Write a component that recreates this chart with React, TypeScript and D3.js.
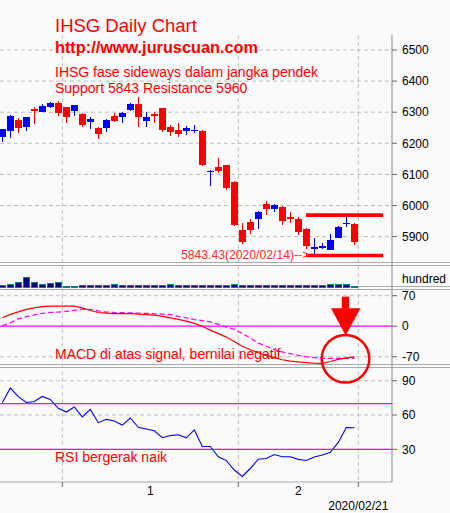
import React from "react";
import * as d3 from "d3";

const dates = [
  "2019/12/17", "2019/12/18", "2019/12/19", "2019/12/20", "2019/12/23", "2019/12/26", "2019/12/27", "2019/12/30",
  "2020/01/02", "2020/01/03", "2020/01/06", "2020/01/07", "2020/01/08", "2020/01/09", "2020/01/10", "2020/01/13",
  "2020/01/14", "2020/01/15", "2020/01/16", "2020/01/17", "2020/01/20", "2020/01/21", "2020/01/22", "2020/01/23",
  "2020/01/24", "2020/01/27", "2020/01/28", "2020/01/29", "2020/01/30", "2020/01/31",
  "2020/02/03", "2020/02/04", "2020/02/05", "2020/02/06", "2020/02/07", "2020/02/10", "2020/02/11", "2020/02/12",
  "2020/02/13", "2020/02/14", "2020/02/17", "2020/02/18", "2020/02/19", "2020/02/20", "2020/02/21",
];

const opens = [
  6221, 6240, 6275, 6253, 6309, 6302, 6318, 6329, 6316, 6305, 6294, 6270, 6250, 6248, 6289, 6286,
  6307, 6326, 6273, 6294, 6312, 6251, 6243, 6239, 6240, 6240, 6108, 6125, 6130, 6076,
  5921, 5947, 5956, 6005, 5988, 5996, 5963, 5957, 5924, 5860, 5862, 5857, 5897, 5939, 5942,
];
const highs = [
  6247, 6290, 6280, 6286, 6318, 6326, 6334, 6336, 6318, 6324, 6298, 6286, 6252, 6277, 6296, 6300,
  6328, 6350, 6302, 6302, 6314, 6259, 6264, 6256, 6259, 6243, 6114, 6154, 6131, 6080,
  5944, 5956, 5981, 6015, 6005, 5999, 5979, 5962, 5929, 5895, 5879, 5907, 5933, 5962, 5944,
];
const lows = [
  6205, 6218, 6232, 6240, 6262, 6300, 6312, 6288, 6264, 6288, 6251, 6245, 6214, 6235, 6270, 6266,
  6305, 6253, 6253, 6266, 6237, 6223, 6221, 6227, 6234, 6128, 6063, 6103, 6050, 5934,
  5876, 5908, 5923, 5970, 5979, 5937, 5945, 5905, 5860, 5843.43, 5859, 5856, 5896, 5931, 5873,
];
const closes = [
  6245, 6288, 6248, 6284, 6305, 6321, 6331, 6298, 6284, 6323, 6259, 6278, 6229, 6275, 6273, 6298,
  6326, 6284, 6286, 6288, 6243, 6237, 6230, 6248, 6243, 6130, 6111, 6112, 6057, 5937,
  5884, 5921, 5980, 5989, 6002, 5950, 5956, 5914, 5871, 5867, 5871, 5889, 5932, 5944, 5882,
];

// volume in hundreds (relative units)
const volumes = [
  20, 30, 47, 100, 47, 27, 37, 47, 10, 10, 15, 15, 15, 15, 27, 15,
  15, 15, 15, 15, 15, 27, 15, 15, 15, 15, 15, 15, 20, 30,
  20, 20, 20, 20, 20, 20, 20, 20, 20, 20, 20, 25, 25, 25, 10,
];

const macd = [
  19.5, 27, 33, 38.5, 42, 45, 46, 46, 46, 46, 42, 36, 31.5, 30, 29, 29,
  29, 27.5, 26.5, 25.5, 22.5, 19, 15.5, 11.5, 6.5, 0, -9, -17, -25, -35,
  -46, -54, -61, -67, -72, -77, -80, -82, -83.5, -85, -85.5, -81, -76, -72.5, -70.5,
];
const signal = [
  1.5, 7.5, 17, 22, 26, 29.5, 31.5, 32.5, 34, 36.5, 39, 38.5, 35, 32.5, 31.5, 31,
  30.5, 30, 29.5, 28.5, 27.5, 26.5, 22.5, 19, 15, 13, 9.9, 4, -2, -7,
  -17, -27, -39, -46, -54, -59, -63, -67, -70, -72, -74, -74, -74, -74, -74,
];
const rsi = [
  70.8, 83.6, 76.0, 70.9, 71.8, 76.2, 73.6, 65.9, 62.6, 67.0, 58.4, 64.9, 53.3, 56.2, 54.8, 51.2,
  57.4, 49.2, 47.8, 46.2, 40.1, 42.0, 42.7, 40.0, 46.9, 32.4, 32.5, 23.5, 20.1, 11.9,
  6.2, 13.2, 21.3, 21.9, 25.4, 23.5, 23.5, 21.2, 20.2, 23.3, 25.0, 27.4, 36.0, 49.1, 48.9,
];

const priceTicks = [6500, 6400, 6300, 6200, 6100, 6000, 5900];
const macdTicks = [70, 0, -70];
const rsiTicks = [90, 60, 30];
const rsiBands = [70, 30];
const resistanceLevel = 5969;
const supportLevel = 5839;
const lowLabel = "5843.43(2020/02/14)-->";
const titleLines = ["IHSG Daily Chart", "http://www.juruscuan.com"];
const noteLines = ["IHSG fase sideways dalam jangka pendek", "Support 5843 Resistance 5960"];
const macdNote = "MACD di atas signal, bernilai negatif";
const rsiNote = "RSI bergerak naik";
const volumeUnit = "hundred";

const FONT = "'Liberation Sans', Arial, sans-serif";
const RED = "#ff0000";
const BLUE = "#0000ff";
const MAG = "#ff00ff";

export default function App() {
  const W = 450;
  const H = 513;
  const axisX = 392;
  const top = 35;
  const n = dates.length;

  const x = d3.scaleLinear().domain([0, n - 1]).range([2.3, 354.3]);
  const yP = d3.scaleLinear().domain([5900, 6500]).range([236.6, 50]);
  const yV = d3.scaleLinear().domain([0, 220]).range([287, 265]);
  const yM = d3.scaleLinear().domain([70, -70]).range([295.7, 356.7]);
  const yR = d3.scaleLinear().domain([90, 30]).range([380.7, 449.3]);

  // month boundaries
  const boundaries: number[] = [];
  const monthLabels: { label: string; pos: number }[] = [];
  let start = 0;
  for (let i = 1; i <= n; i++) {
    const m = i < n ? dates[i].slice(0, 7) : null;
    const pm = dates[i - 1].slice(0, 7);
    if (m !== pm) {
      if (i < n) boundaries.push(i - 0.5);
      if (start > 0) {
        monthLabels.push({ label: String(parseInt(pm.slice(5), 10)), pos: (start + i - 1) / 2 });
      }
      start = i;
    }
  }
  const lastBoundary = n - 0.5;
  const vLines = [...boundaries, lastBoundary].map((b) => x(b));

  const macdLine = d3.line<number>().x((_, i) => x(i)).y((d) => yM(d));
  const rsiLine = d3.line<number>().x((_, i) => x(i)).y((d) => yR(d));

  const separators = [264, 288, 366];
  const gridStroke = "#bdbdbd";
  const dash = "4,3";

  const idxLow = lows.indexOf(d3.min(lows) as number);

  return (
    <div style={{ position: "fixed", left: 0, top: 0 }}>
      <svg width={W} height={H} style={{ display: "block", background: "#fafafa" }} fontFamily={FONT}>
        <rect x={0} y={0} width={W} height={H} fill="#fafafa" />

        {/* horizontal grid - price */}
        {priceTicks.map((t) => (
          <line key={"pg" + t} x1={0} x2={axisX} y1={yP(t)} y2={yP(t)} stroke={gridStroke} strokeDasharray={dash} />
        ))}
        {/* grid - macd */}
        {macdTicks.filter((t) => t !== 0).map((t) => (
          <line key={"mg" + t} x1={0} x2={axisX} y1={yM(t)} y2={yM(t)} stroke={gridStroke} strokeDasharray={dash} />
        ))}
        {/* grid - rsi */}
        {rsiTicks.map((t) => (
          <line key={"rg" + t} x1={0} x2={axisX} y1={yR(t)} y2={yR(t)} stroke={gridStroke} strokeDasharray={dash} />
        ))}
        {/* vertical grid */}
        {vLines.map((vx, i) => (
          <line key={"vg" + i} x1={vx} x2={vx} y1={top} y2={482} stroke={gridStroke} strokeDasharray={dash} />
        ))}

        {/* separators */}
        {separators.map((s) => (
          <g key={"sep" + s}>
            <line x1={0} x2={W} y1={s - 1.5} y2={s - 1.5} stroke="#aaaaaa" />
            <line x1={0} x2={W} y1={s + 1.5} y2={s + 1.5} stroke="#aaaaaa" />
          </g>
        ))}
        <line x1={0} x2={axisX} y1={482} y2={482} stroke="#aaaaaa" />

        {/* axis line */}
        <line x1={axisX} x2={axisX} y1={top} y2={482} stroke="#9a9a9a" strokeWidth={1.2} />

        {/* price ticks */}
        {priceTicks.map((t) => (
          <g key={"pt" + t}>
            <line x1={axisX} x2={axisX + 5} y1={yP(t)} y2={yP(t)} stroke="#666677" />
            <text x={axisX + 10} y={yP(t)} dy="0.35em" fontSize={12} fill="#000">{t}</text>
          </g>
        ))}
        {macdTicks.map((t) => (
          <g key={"mt" + t}>
            <line x1={axisX} x2={axisX + 5} y1={yM(t)} y2={yM(t)} stroke="#666677" />
            <text x={axisX + 10} y={yM(t)} dy="0.35em" fontSize={12} fill="#000">{t}</text>
          </g>
        ))}
        {rsiTicks.map((t) => (
          <g key={"rt" + t}>
            <line x1={axisX} x2={axisX + 5} y1={yR(t)} y2={yR(t)} stroke="#666677" />
            <text x={axisX + 10} y={yR(t)} dy="0.35em" fontSize={12} fill="#000">{t}</text>
          </g>
        ))}
        <text x={axisX + 10} y={283} fontSize={12} fill="#000">{volumeUnit}</text>

        {/* bottom axis */}
        {vLines.map((vx, i) => (
          <line key={"bt" + i} x1={vx} x2={vx} y1={482} y2={487} stroke="#666677" />
        ))}
        {monthLabels.map((m) => (
          <text key={"ml" + m.label} x={x(m.pos)} y={495} textAnchor="middle" fontSize={12} fill="#000">{m.label}</text>
        ))}
        <text x={x(lastBoundary)} y={510} textAnchor="middle" fontSize={12} fill="#000">{dates[n - 1]}</text>

        {/* candles */}
        <g shapeRendering="crispEdges">
          {dates.map((d, i) => {
            const up = closes[i] >= opens[i];
            const c = up ? BLUE : RED;
            const cx = x(i);
            const yTop = yP(Math.max(opens[i], closes[i]));
            const yBot = yP(Math.min(opens[i], closes[i]));
            return (
              <g key={d}>
                <line x1={cx} x2={cx} y1={yP(highs[i])} y2={yP(lows[i])} stroke={c} />
                <rect x={cx - 3.5} y={yTop} width={7} height={Math.max(1.5, yBot - yTop)} fill={c} />
              </g>
            );
          })}
        </g>

        {/* volume */}
        <g shapeRendering="crispEdges">
          {volumes.map((v, i) => (
            <rect key={"v" + i} x={x(i) - 3} y={yV(v)} width={6.5} height={Math.max(1, yV(0) - yV(v))}
              fill="#000080" stroke="#008080" strokeWidth={1} />
          ))}
        </g>

        {/* MACD */}
        <line x1={0} x2={axisX} y1={yM(0)} y2={yM(0)} stroke={MAG} strokeWidth={1.3} />
        <path d={macdLine(signal) || ""} fill="none" stroke={MAG} strokeWidth={1.3} strokeDasharray="5,3" />
        <path d={macdLine(macd) || ""} fill="none" stroke={RED} strokeWidth={1.2} />

        {/* RSI */}
        {rsiBands.map((b) => (
          <line key={"rb" + b} x1={0} x2={axisX} y1={yR(b)} y2={yR(b)} stroke={MAG} strokeWidth={1.3} />
        ))}
        <path d={rsiLine(rsi) || ""} fill="none" stroke={BLUE} strokeWidth={1.1} />

        {/* support / resistance */}
        <line x1={306} x2={383} y1={yP(resistanceLevel)} y2={yP(resistanceLevel)} stroke={RED} strokeWidth={3.6} />
        <line x1={306} x2={383} y1={yP(supportLevel)} y2={yP(supportLevel)} stroke={RED} strokeWidth={3.6} />
        <text x={x(idxLow) - 5} y={259} textAnchor="end" fontSize={12.2} fill="#ff2a2a">{lowLabel}</text>

        {/* titles */}
        <text x={55} y={31.5} fontSize={18.5} fill={RED}>{titleLines[0]}</text>
        <text x={55} y={53} fontSize={16.3} fontWeight="bold" fill={RED}>{titleLines[1]}</text>
        <text x={55} y={76.5} fontSize={14} fill={RED}>{noteLines[0]}</text>
        <text x={55} y={93.3} fontSize={14} fill={RED}>{noteLines[1]}</text>

        <text x={55} y={359} fontSize={14} fill={RED}>{macdNote}</text>
        <text x={55} y={461.5} fontSize={14} fill={RED}>{rsiNote}</text>

        {/* arrow & circle */}
        <rect x={341.8} y={296.7} width={7.2} height={12} fill={RED} />
        <polygon points="331,308.3 360.5,308.3 345.7,335.5" fill={RED} />
        <circle cx={345.5} cy={358.8} r={23.8} fill="none" stroke={RED} strokeWidth={2.5} />
      </svg>
    </div>
  );
}
